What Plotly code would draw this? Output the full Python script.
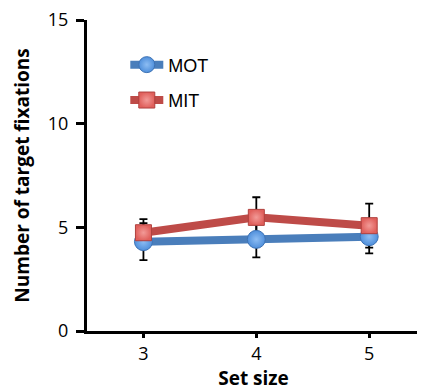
import plotly.graph_objects as go

set_size = [3, 4, 5]
mot_mean = [4.31, 4.42, 4.55]
mot_err = [0.89, 0.87, 0.81]
mit_mean = [4.74, 5.48, 5.08]
mit_err = [0.66, 0.97, 1.06]
y_ticks = [0, 5, 10, 15]

fig = go.Figure()

# error bars (drawn beneath lines)
for mean, err in [(mot_mean, mot_err), (mit_mean, mit_err)]:
    fig.add_trace(go.Scatter(
        x=set_size, y=mean, mode="markers", showlegend=False,
        marker=dict(size=1, color="rgba(0,0,0,0)"),
        error_y=dict(type="data", array=err, color="black", thickness=1.8, width=4),
        hoverinfo="skip"))

fig.add_trace(go.Scatter(
    x=set_size, y=mot_mean, mode="lines+markers", name="MOT", legendgroup="a",
    line=dict(color="#4A7EBB", width=8),
    marker=dict(symbol="circle", size=18, color="#4F8FDB",
                gradient=dict(type="radial", color="#8DBDF3"),
                line=dict(color="#3E73B5", width=1))))
fig.add_trace(go.Scatter(
    x=set_size, y=mit_mean, mode="lines+markers", name="MIT", legendgroup="b",
    line=dict(color="#BE4B48", width=8),
    marker=dict(symbol="square", size=16, color="#E0605C",
                gradient=dict(type="radial", color="#F29A97"),
                line=dict(color="#B0413E", width=1))))

# page body has an 8px default margin, so the figure is sized to fit
fig.update_layout(
    width=417, height=384,
    margin=dict(l=79, r=5, t=12, b=61, autoexpand=False),
    paper_bgcolor="white", plot_bgcolor="white",
    font=dict(family="Open Sans", color="black"),
    showlegend=True,
    legend=dict(x=0.115, y=0.915, xanchor="left", yanchor="top",
                bgcolor="rgba(0,0,0,0)", itemwidth=33,
                font=dict(family="Liberation Sans", size=18),
                tracegroupgap=9),
    xaxis=dict(range=[2.5, 5.45], tickvals=set_size, ticktext=[str(v) for v in set_size],
               automargin=False, ticklabeloverflow="allow",
               showgrid=False, zeroline=False, showline=True, linecolor="black", linewidth=3,
               ticks="outside", ticklen=4, tickwidth=3, tickcolor="black",
               tickfont=dict(size=18, family="Open Sans"),
               title=dict(text="<b>Set size</b>", font=dict(size=19, family="Open Sans"), standoff=4)),
    yaxis=dict(range=[0, 15], tickvals=y_ticks,
               automargin=False, ticklabeloverflow="allow",
               showgrid=False, zeroline=False, showline=True, linecolor="black", linewidth=3,
               ticks="outside", ticklen=8, tickwidth=3, tickcolor="black",
               ticklabelstandoff=4,
               tickfont=dict(size=18, family="Open Sans"),
               title=dict(text="<b>Number of target fixations</b>", font=dict(size=19, family="Open Sans"), standoff=14)),
)

fig.write_html("out.html")
